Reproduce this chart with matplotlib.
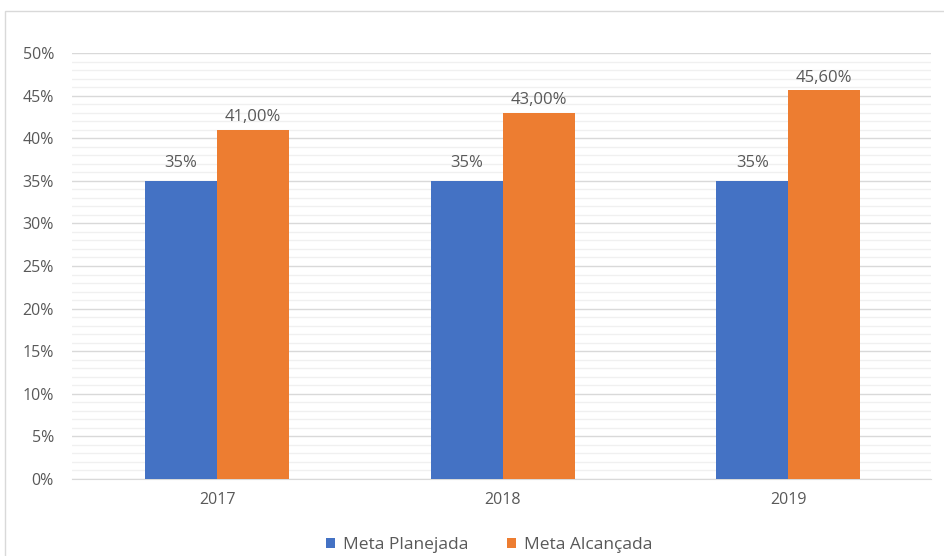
import matplotlib
matplotlib.use("Agg")
import matplotlib.pyplot as plt
import numpy as np
from matplotlib.patches import Rectangle
from matplotlib.ticker import MultipleLocator, FuncFormatter

categories = ["2017", "2018", "2019"]
planejada = [35.0, 35.0, 35.0]
alcancada = [41.0, 43.0, 45.6]
labels_planejada = ["35%", "35%", "35%"]
labels_alcancada = ["41,00%", "43,00%", "45,60%"]
series_names = ["Meta Planejada", "Meta Alcançada"]

blue = "#4472C4"
orange = "#ED7D31"
txt = "#595959"

plt.rcParams['font.family'] = ['Open Sans', 'DejaVu Sans']

fig = plt.figure(figsize=(9.44, 5.56), dpi=100)
fig.patches.append(Rectangle((5/944, -0.1), 1.2, (556-11)/556 + 0.1, transform=fig.transFigure,
                             fill=False, edgecolor="#d9d9d9", linewidth=1.0))
ax = fig.add_axes([72/944, 77/556, (931-72)/944, (479-53)/556])

x = np.arange(len(categories))
w = 0.252
b1 = ax.bar(x - w/2, planejada, w, color=blue, zorder=3)
b2 = ax.bar(x + w/2, alcancada, w, color=orange, zorder=3)

for rect, lab in zip(b1, labels_planejada):
    ax.text(rect.get_x() + rect.get_width()/2, rect.get_height() + 1.1, lab,
            ha="center", va="bottom", fontsize=12, color=txt)
for rect, lab in zip(b2, labels_alcancada):
    ax.text(rect.get_x() + rect.get_width()/2, rect.get_height() + 0.5, lab,
            ha="center", va="bottom", fontsize=12, color=txt)

ax.set_xlim(-0.508, 2.5)
ax.set_ylim(0, 50)
ax.yaxis.set_major_locator(MultipleLocator(5))
ax.yaxis.set_minor_locator(MultipleLocator(1))
ax.yaxis.set_major_formatter(FuncFormatter(lambda v, p: f"{int(round(v))}%"))
ax.grid(axis="y", which="major", color="#d9d9d9", linewidth=1.0, zorder=0)
ax.grid(axis="y", which="minor", color="#f0f0f0", linewidth=1.0, zorder=0)
ax.set_xticks(x)
ax.set_xticklabels(categories)
ax.tick_params(axis="both", which="both", length=0, labelsize=11.5, colors=txt)
ax.tick_params(axis="y", pad=13)
ax.tick_params(axis="x", pad=9)
for s in ["top", "right", "left"]:
    ax.spines[s].set_visible(False)
ax.spines["bottom"].set_color("#d9d9d9")

leg = fig.legend([b1, b2], series_names, loc="center", bbox_to_anchor=(489/944, 1 - 545/556),
                 ncol=2, frameon=False, fontsize=12.5, handlelength=0.55, handleheight=0.55,
                 handletextpad=0.45, columnspacing=2.2)
for t in leg.get_texts():
    t.set_color(txt)

fig.savefig("out.png", dpi=100)
